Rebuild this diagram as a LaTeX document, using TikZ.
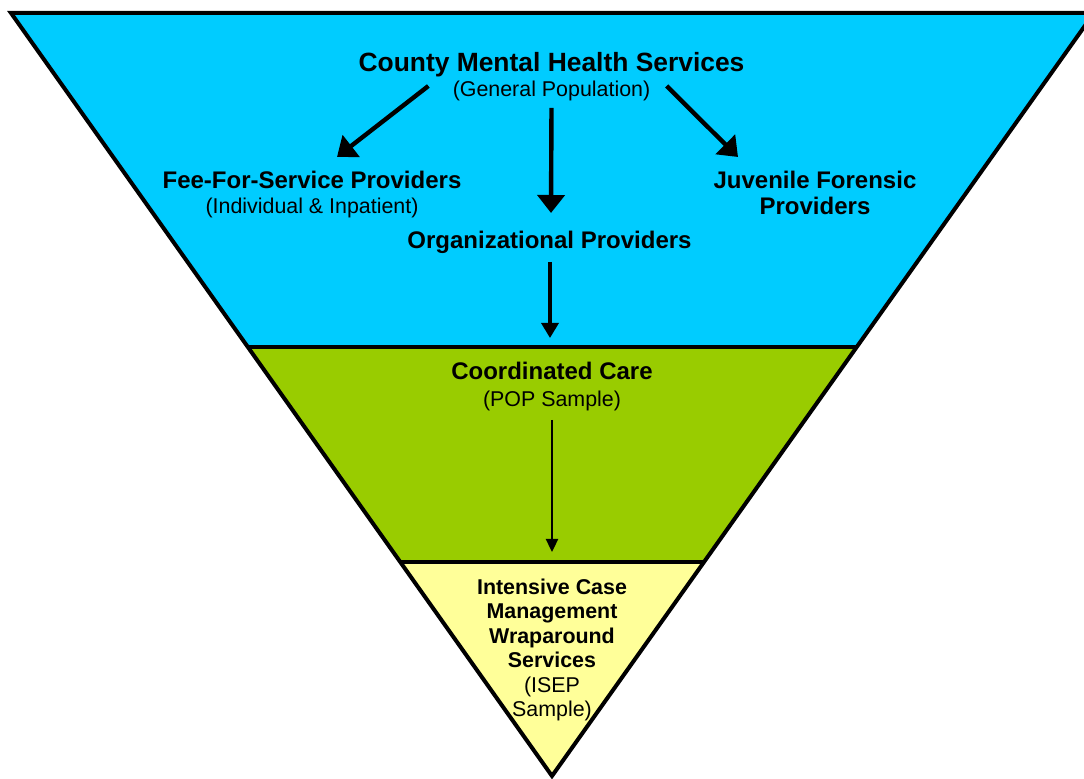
\documentclass[tikz,border=0pt]{standalone}
\usepackage{fontspec}
\setmainfont{Liberation Sans}
\usetikzlibrary{arrows.meta,positioning}

\definecolor{bandblue}{HTML}{00CCFF}
\definecolor{bandgreen}{HTML}{99CC00}
\definecolor{bandyellow}{HTML}{FFFF99}

\begin{document}
\begin{tikzpicture}[x=0.5pt,y=-0.5pt,
  toptitle/.style={font=\fontsize{13.2}{15}\selectfont\bfseries, inner sep=0pt, anchor=base},
  provider/.style={font=\fontsize{12}{13.3}\selectfont\bfseries, inner sep=0pt, align=center, anchor=base},
  subtext/.style={font=\fontsize{10.7}{12.2}\selectfont, inner sep=0pt, align=center, anchor=base},
  bigarrow/.style={line width=2.2pt, -{Triangle[width=13.5pt,length=9pt]}},
  midarrow/.style={line width=1.7pt, -{Triangle[width=8.5pt,length=7.5pt]}},
  smallarrow/.style={line width=1.2pt, -{Triangle[width=6pt,length=6.5pt]}},
]
\useasboundingbox (0,0) rectangle (1084,779);

\coordinate (tl) at (11,13);
\coordinate (tr) at (1094,13);
\coordinate (apex) at (552,776);
\coordinate (bl1) at (248,347);
\coordinate (br1) at (857,347);
\coordinate (bl2) at (400,562);
\coordinate (br2) at (704,562);

\fill[bandblue] (tl) -- (tr) -- (br1) -- (bl1) -- cycle;
\fill[bandgreen] (bl1) -- (br1) -- (br2) -- (bl2) -- cycle;
\fill[bandyellow] (bl2) -- (br2) -- (apex) -- cycle;
\draw[line width=1.8pt] (bl1) -- (br1);
\draw[line width=1.8pt] (bl2) -- (br2);
\draw[line width=2pt, line join=miter] (tl) -- (tr) -- (apex) -- cycle;

\node[toptitle] (cmhs) at (551.5,71.5) {County Mental Health Services};
\node[subtext] (genpop) at (551.5,96.5) {(General Population)};
\node[provider] (fee) at (312,188.2) {Fee-For-Service Providers};
\node[subtext] (feesub) at (312,213.2) {(Individual \& Inpatient)};
\node[provider] (juv) at (815,214.8) {Juvenile Forensic\\Providers};
\node[provider] (org) at (549.5,248.2) {Organizational Providers};
\node[provider] (coord) at (552,379.8) {Coordinated Care};
\node[subtext] (pop) at (552,406.5) {(POP Sample)};
\node[subtext] (ics) at (552,716.5) {\bfseries Intensive Case\\\bfseries Management\\\bfseries Wraparound\\\bfseries Services\\(ISEP\\Sample)};

\draw[bigarrow] ([shift={(-24,-10.5)}]genpop.base west) -- ([shift={(25,-31.2)}]fee.base);
\draw[bigarrow] ([shift={(16,-10.5)}]genpop.base east) -- ([shift={(-77,-57.8)}]juv.base);
\draw[bigarrow] ([shift={(0,11.5)}]genpop.base) -- ([shift={(1.5,-35.2)}]org.base);
\draw[midarrow] ([shift={(0.5,13.8)}]org.base) -- ([shift={(-2,-41.8)}]coord.base);
\draw[smallarrow] ([shift={(0,13.5)}]pop.base) -- ([shift={(0,-164.5)}]ics.base);
\end{tikzpicture}
\end{document}
